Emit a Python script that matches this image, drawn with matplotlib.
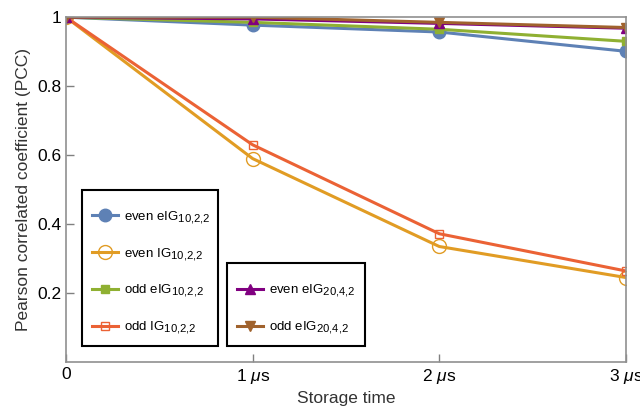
import numpy as np
import matplotlib.pyplot as plt
import matplotlib._mathtext as mt
from matplotlib.patches import Rectangle

plt.rcParams['font.family'] = ['Liberation Sans', 'DejaVu Sans']
plt.rcParams['mathtext.fontset'] = 'custom'
plt.rcParams['mathtext.rm'] = 'Liberation Sans'
plt.rcParams['mathtext.it'] = 'Liberation Sans:italic'
mt.SHRINK_FACTOR = 0.85  # bigger subscripts like the original

times = [0, 1, 2, 3]
tick_labels = ['0', r'1 $\mathit{\mu}$s', r'2 $\mathit{\mu}$s', r'3 $\mathit{\mu}$s']
even_eig10 = [1.0, 0.977, 0.957, 0.901]
even_ig10 = [1.0, 0.59, 0.335, 0.245]
odd_eig10 = [1.0, 0.985, 0.965, 0.930]
odd_ig10 = [1.0, 0.63, 0.372, 0.264]
even_eig20 = [1.0, 0.995, 0.982, 0.968]
odd_eig20 = [1.0, 1.0, 0.985, 0.970]

fig, ax = plt.subplots(figsize=(6.4, 4.19), dpi=100)
fig.subplots_adjust(left=0.103, right=0.978, top=0.959, bottom=0.136)

lw = 2.2
l1, = ax.plot(times, even_eig10, color='#5E81B5', lw=lw, marker='o', ms=9, label='even eIG$_{10{,}2{,}2}$')
l2, = ax.plot(times, even_ig10, color='#E19C24', lw=lw, marker='o', ms=10, mfc='none', mew=1, label='even IG$_{10{,}2{,}2}$')
l3, = ax.plot(times, odd_eig10, color='#8FB032', lw=lw, marker='s', ms=6, label='odd eIG$_{10{,}2{,}2}$')
l4, = ax.plot(times, odd_ig10, color='#EB6235', lw=lw, marker='s', ms=6, mfc='none', mew=1, label='odd IG$_{10{,}2{,}2}$')
l5, = ax.plot(times, even_eig20, color='#800080', lw=lw, marker='^', ms=7, label='even eIG$_{20{,}4{,}2}$')
l6, = ax.plot(times, odd_eig20, color='#A0622D', lw=lw, marker='v', ms=7, label='odd eIG$_{20{,}4{,}2}$')

ax.set_xlim(0, 3)
ax.set_ylim(0, 1)
ax.set_xticks(times)
ax.set_xticklabels(tick_labels)
ax.set_yticks([0.2, 0.4, 0.6, 0.8, 1.0])
ax.set_yticklabels(['0.2', '0.4', '0.6', '0.8', '1'])
ax.tick_params(direction='in', length=6, width=1, color='#808080', labelsize=12.5)
for s in ax.spines.values():
    s.set_color('#909090')
    s.set_linewidth(1.2)
ax.set_xlabel('Storage time', fontsize=12.5, color='#333333')
ax.set_ylabel('Pearson correlated coefficient (PCC)', fontsize=12.5, color='#333333')

# legends without frame; boxes drawn separately to get the extra top margin
leg_kw = dict(frameon=False, fontsize=9.5, handlelength=1.95,
              labelspacing=1.55, borderpad=0.75, handletextpad=0.5, borderaxespad=0)
leg1 = ax.legend(handles=[l1, l2, l3, l4], loc='lower left',
                 bbox_to_anchor=(0.029, 0.046), **leg_kw)
ax.add_artist(leg1)
leg2 = ax.legend(handles=[l5, l6], loc='lower left',
                 bbox_to_anchor=(0.2875, 0.046), **leg_kw)

for x0, y0, w, h in [(0.0286, 0.046, 0.243, 0.453), (0.2875, 0.046, 0.246, 0.241)]:
    ax.add_patch(Rectangle((x0, y0), w, h, transform=ax.transAxes, fill=False,
                           edgecolor='black', lw=1.5, zorder=5))

fig.savefig('out.png', dpi=100)
